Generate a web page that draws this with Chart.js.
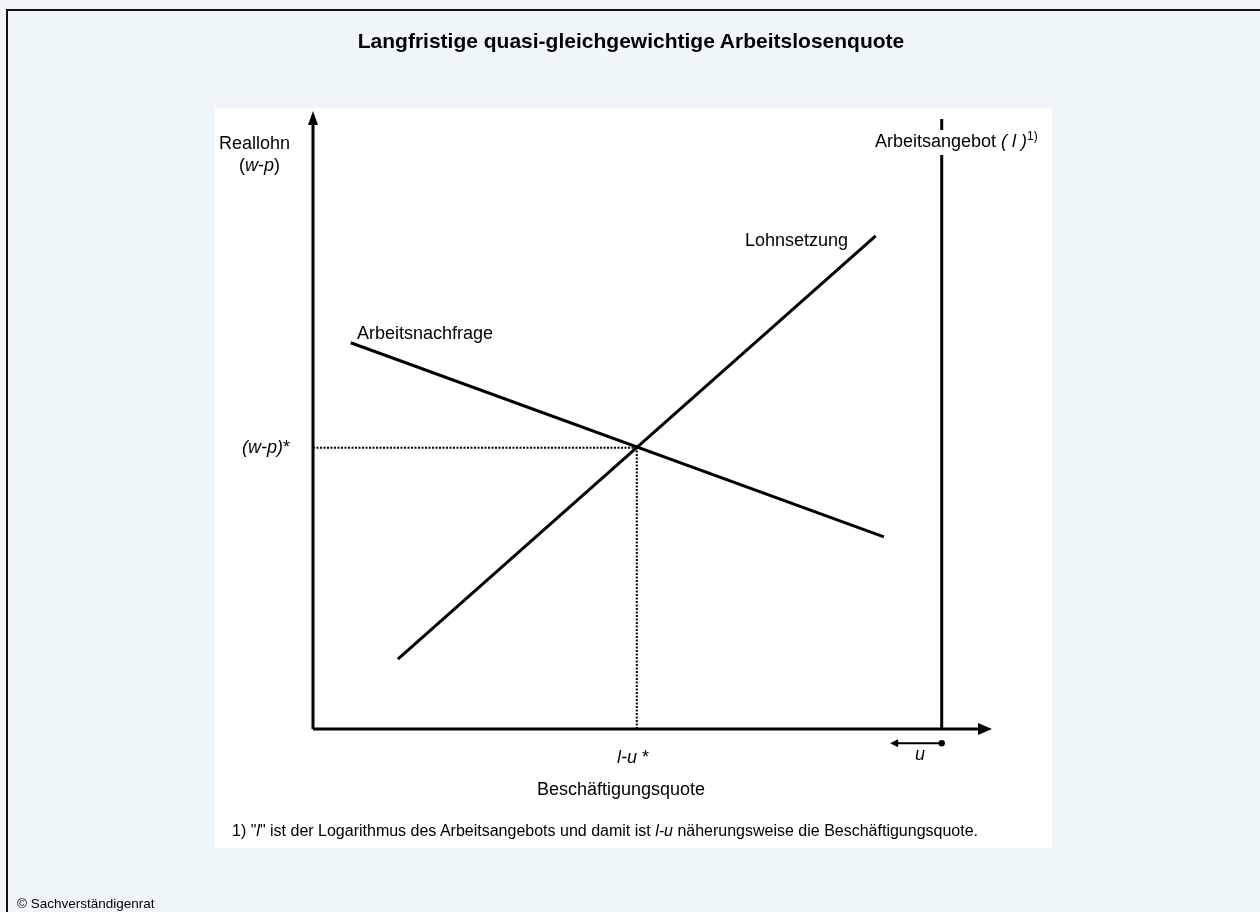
<!DOCTYPE html>
<html lang="de">
<head>
<meta charset="utf-8">
<title>Langfristige quasi-gleichgewichtige Arbeitslosenquote</title>
<script src="https://cdn.jsdelivr.net/npm/chart.js@4"></script>
<style>
  html, body { margin: 0; padding: 0; }
  body {
    width: 1260px; height: 912px; overflow: hidden; position: relative;
    background: #eef6fa; font-family: "Liberation Sans", Arial, sans-serif; color: #000;
  }
  #frame {
    position: absolute; left: 6px; top: 9px; width: 1300px; height: 960px;
    border-left: 2px solid #111; border-top: 2px solid #111;
  }
  #panel { position: absolute; left: 215px; top: 108px; width: 837px; height: 740px; background: #fff; }
  #chart { position: absolute; left: 0; top: 0; }
  .lbl { position: absolute; font-size: 18px; line-height: 18px; white-space: nowrap; }
  .title { font-weight: bold; font-size: 21px; line-height: 21px; left: 0; width: 1262px; text-align: center; }
  .note { font-size: 16px; line-height: 16px; }
  .small { font-size: 13.5px; line-height: 13.5px; }
  sup { font-size: 12px; vertical-align: 7px; line-height: 0; }
</style>
</head>
<body>
<div id="frame"></div>
<div id="panel"></div>
<canvas id="chart" width="1260" height="912"></canvas>

<div class="lbl title" style="top:30px">Langfristige quasi-gleichgewichtige Arbeitslosenquote</div>
<div class="lbl" style="left:219px;top:134px">Reallohn</div>
<div class="lbl" style="left:239px;top:156px">(<i>w</i>-<i>p</i>)</div>
<div class="lbl" style="left:873px;top:130px;background:#fff;padding:2px 2px 5px 2px">Arbeitsangebot <i>( l )</i><sup>1)</sup></div>
<div class="lbl" style="left:745px;top:231px">Lohnsetzung</div>
<div class="lbl" style="left:357px;top:324px">Arbeitsnachfrage</div>
<div class="lbl" style="left:242px;top:438px"><i>(w-p)</i>*</div>
<div class="lbl" style="left:617px;top:748px"><i>l-u</i> *</div>
<div class="lbl" style="left:915px;top:745px"><i>u</i></div>
<div class="lbl" style="left:537px;top:780px">Beschäftigungsquote</div>
<div class="lbl note" style="left:232px;top:823px">1) "<i>l</i>" ist der Logarithmus des Arbeitsangebots und damit ist <i>l-u</i> näherungsweise die Beschäftigungsquote.</div>
<div class="lbl small" style="left:17px;top:897px">© Sachverständigenrat</div>

<script>
"use strict";

// Schematic model in arbitrary units: x = Beschäftigung, y = Reallohn.
const axisEndX = 108;
const axisEndY = 100;

const lohnsetzungX = [13.5, 89.5];
const lohnsetzungY = [11.3, 79.8];

const nachfrageX = [6.0, 90.8];
const nachfrageY = [62.5, 31.1];

const angebotX = [100, 100];
const angebotY = [0, 98.7];

// equilibrium: l-u* and (w-p)*
const gleichgewichtX = 51.5;
const gleichgewichtY = 45.5;

// arrow "u" below the x axis, pointing from l towards l-u
const uPfeilX = [91.8, 100];
const uPfeilY = -2.3;

const INK = "#000";

function pts(xs, ys) { return xs.map((x, i) => ({ x, y: ys[i] })); }

function line(data, width, extra = {}) {
  return Object.assign({
    data, showLine: true, borderColor: INK, backgroundColor: INK,
    borderWidth: width, pointRadius: 0, clip: false, borderCapStyle: "butt",
  }, extra);
}

/* ---------- arrowheads on the axes and on u ---------- */
function arrowHead(ctx, tipX, tipY, dir, len, half) {
  ctx.beginPath();
  if (dir === "up") {
    ctx.moveTo(tipX, tipY); ctx.lineTo(tipX - half, tipY + len); ctx.lineTo(tipX + half, tipY + len);
  } else if (dir === "right") {
    ctx.moveTo(tipX, tipY); ctx.lineTo(tipX - len, tipY - half); ctx.lineTo(tipX - len, tipY + half);
  } else {
    ctx.moveTo(tipX, tipY); ctx.lineTo(tipX + len, tipY - half); ctx.lineTo(tipX + len, tipY + half);
  }
  ctx.closePath();
  ctx.fill();
}

const arrows = {
  id: "arrows",
  afterDatasetsDraw(chart) {
    const { ctx, scales: { x, y } } = chart;
    ctx.save();
    ctx.fillStyle = INK;
    arrowHead(ctx, x.getPixelForValue(0), y.getPixelForValue(axisEndY), "up", 14, 5);
    arrowHead(ctx, x.getPixelForValue(axisEndX), y.getPixelForValue(0), "right", 14, 6);
    arrowHead(ctx, x.getPixelForValue(uPfeilX[0]), y.getPixelForValue(uPfeilY), "left", 8, 4);
    // dot at l (points outside the chart area are not drawn by the controller)
    ctx.beginPath();
    ctx.arc(x.getPixelForValue(uPfeilX[1]), y.getPixelForValue(uPfeilY), 3.2, 0, Math.PI * 2);
    ctx.fill();
    ctx.restore();
  },
};

new Chart(document.getElementById("chart"), {
  type: "scatter",
  data: {
    datasets: [
      // axes
      line(pts([0, 0], [0, axisEndY - 2]), 3),
      line(pts([0, axisEndX - 2], [0, 0]), 3),
      // dotted guides to the equilibrium
      line(pts([0, gleichgewichtX], [gleichgewichtY, gleichgewichtY]), 2, { borderDash: [2, 1.5] }),
      line(pts([gleichgewichtX, gleichgewichtX], [0, gleichgewichtY]), 2, { borderDash: [2, 1.5] }),
      // curves
      line(pts(angebotX, angebotY), 3),
      line(pts(lohnsetzungX, lohnsetzungY), 3),
      line(pts(nachfrageX, nachfrageY), 3),
      // u arrow shaft
      line(pts([uPfeilX[0] + 0.8, uPfeilX[1]], [uPfeilY, uPfeilY]), 2),
    ],
  },
  options: {
    responsive: false,
    animation: false,
    devicePixelRatio: 1,
    layout: { padding: { left: 313, right: 268, top: 111, bottom: 183 } },
    plugins: { legend: { display: false }, tooltip: { enabled: false } },
    scales: {
      x: { type: "linear", min: 0, max: axisEndX, display: false },
      y: { type: "linear", min: 0, max: axisEndY, display: false },
    },
    events: [],
  },
  plugins: [arrows],
});
</script>
</body>
</html>
